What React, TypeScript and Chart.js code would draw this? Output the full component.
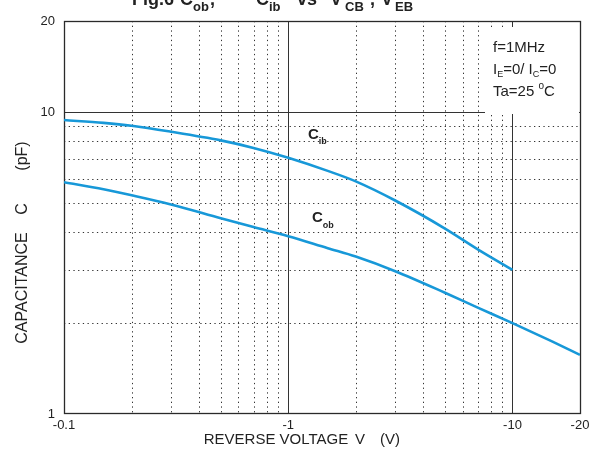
import React, { useEffect, useRef } from "react";
import { Chart, registerables } from "chart.js";

Chart.register(...registerables);

// ---- data (reverse voltage magnitude in V, capacitance in pF) ----
const cibVoltage = [0.1, 0.15, 0.2, 0.3, 0.5, 0.7, 1, 1.5, 2, 3, 5, 7, 10];
const cibValues = [9.4, 9.2, 9.0, 8.6, 8.05, 7.6, 7.05, 6.38, 5.89, 5.09, 4.11, 3.51, 3.0];
const cobVoltage = [0.1, 0.15, 0.2, 0.3, 0.5, 0.7, 1, 1.5, 2, 3, 5, 7, 10, 15, 20];
const cobValues = [5.85, 5.55, 5.3, 4.94, 4.45, 4.16, 3.88, 3.54, 3.32, 2.97, 2.52, 2.25, 2.0, 1.74, 1.57];

const xTickValues = [0.1, 1, 10, 20];
const xTickLabels = ["-0.1", "-1", "-10", "-20"];
const yTickValues = [1, 10, 20];
const yTickLabels = ["1", "10", "20"];

const xMinorGrid = [0.2, 0.3, 0.4, 0.5, 0.6, 0.7, 0.8, 0.9, 2, 3, 4, 5, 6, 7, 8, 9];
const xMajorGrid = [1, 10];
const yMinorGrid = [2, 3, 4, 5, 6, 7, 8, 9];
const yMajorGrid = [10];

const FONT = "Arial, 'Liberation Sans', sans-serif";
const TEXT = "#222";
const GRID = "#333";
const LINE = "#1798d8";

type Run = { t: string; sub?: boolean; sup?: boolean };

function drawRuns(ctx: CanvasRenderingContext2D, runs: Run[], x: number, y: number, size: number, subSize: number, bold: boolean, subDy: number, supDy: number) {
  let cx = x;
  for (const r of runs) {
    const s = r.sub || r.sup ? subSize : size;
    ctx.font = `${bold ? "bold " : ""}${s}px ${FONT}`;
    const yy = r.sub ? y + subDy : r.sup ? y - supDy : y;
    ctx.fillText(r.t, cx, yy);
    cx += ctx.measureText(r.t).width;
  }
}

const gridPlugin = {
  id: "customGrid",
  beforeDatasetsDraw(chart: any) {
    const { ctx, chartArea: a, scales } = chart;
    const xs = scales.x;
    const ys = scales.y;
    ctx.save();
    ctx.strokeStyle = GRID;
    ctx.lineWidth = 1;
    // dotted minor grid
    ctx.setLineDash([1.3, 3.4]);
    for (const v of xMinorGrid) {
      const px = Math.round(xs.getPixelForValue(v)) + 0.5;
      ctx.beginPath();
      ctx.moveTo(px, a.top);
      ctx.lineTo(px, a.bottom);
      ctx.stroke();
    }
    for (const v of yMinorGrid) {
      const py = Math.round(ys.getPixelForValue(v)) + 0.5;
      ctx.beginPath();
      ctx.moveTo(a.left, py);
      ctx.lineTo(a.right, py);
      ctx.stroke();
    }
    ctx.setLineDash([]);
    // solid decade lines
    for (const v of xMajorGrid) {
      const px = Math.round(xs.getPixelForValue(v)) + 0.5;
      ctx.beginPath();
      ctx.moveTo(px, a.top);
      ctx.lineTo(px, a.bottom);
      ctx.stroke();
    }
    for (const v of yMajorGrid) {
      const py = Math.round(ys.getPixelForValue(v)) + 0.5;
      ctx.beginPath();
      ctx.moveTo(a.left, py);
      ctx.lineTo(a.right, py);
      ctx.stroke();
    }
    // white box behind the conditions note
    const y10 = Math.round(ys.getPixelForValue(10));
    ctx.fillStyle = "#fff";
    ctx.fillRect(485, a.top + 6, a.right - 486, y10 - a.top - 4);
    // frame
    ctx.strokeStyle = "#2a2a2a";
    ctx.lineWidth = 1.3;
    ctx.strokeRect(a.left + 0.5, a.top + 0.5, a.right - a.left, a.bottom - a.top - 1);
    ctx.restore();
  },
  afterDraw(chart: any) {
    const { ctx } = chart;
    ctx.save();
    ctx.fillStyle = TEXT;
    ctx.textBaseline = "alphabetic";
    ctx.textAlign = "left";

    // title (cut off at the top of the picture)
    const titleRuns: [string, number, boolean][] = [
      ["Fig.6", 132, false],
      ["C", 180, false],
      ["ob", 193, true],
      [",", 210, false],
      ["C", 256, false],
      ["ib", 269, true],
      ["vs", 297, false],
      ["V", 330, false],
      ["CB", 345, true],
      [",", 370, false],
      ["V", 381, false],
      ["EB", 395, true],
    ];
    for (const [t, x, sub] of titleRuns) {
      ctx.font = `bold ${sub ? 13 : 18}px ${FONT}`;
      ctx.fillText(t, x, sub ? 11 : 5);
    }

    // conditions note
    ctx.font = `15px ${FONT}`;
    ctx.fillText("f=1MHz", 493, 52);
    drawRuns(ctx, [{ t: "I" }, { t: "E", sub: true }, { t: "=0/ I" }, { t: "C", sub: true }, { t: "=0" }], 493, 74, 15, 9, false, 3, 0);
    drawRuns(ctx, [{ t: "Ta=25 " }, { t: "o", sup: true }, { t: "C" }], 493, 96, 15, 10, false, 0, 7);

    // curve labels
    drawRuns(ctx, [{ t: "C" }, { t: "ib", sub: true }], 308, 139, 15, 9, true, 5, 0);
    drawRuns(ctx, [{ t: "C" }, { t: "ob", sub: true }], 312, 222, 15, 9, true, 6, 0);

    // x-axis title
    ctx.font = `15px ${FONT}`;
    ctx.textAlign = "center";
    ctx.textBaseline = "middle";
    ctx.fillText("REVERSE VOLTAGE", 276, 440);
    ctx.fillText("V", 360, 440);
    ctx.fillText("(V)", 390, 440);

    // y-axis title
    ctx.save();
    ctx.translate(23, 0);
    ctx.rotate(-Math.PI / 2);
    ctx.font = `16px ${FONT}`;
    ctx.fillText("CAPACITANCE", -288, 0);
    ctx.fillText("C", -209, 0);
    ctx.fillText("(pF)", -156, 0);
    ctx.restore();

    ctx.restore();
  },
};

export default function App() {
  const ref = useRef<HTMLCanvasElement | null>(null);

  useEffect(() => {
    document.body.style.margin = "0";
    const canvas = ref.current;
    if (!canvas) return;
    const chart = new Chart(canvas, {
      type: "line",
      data: {
        datasets: [
          {
            label: "Cib",
            data: cibVoltage.map((v, i) => ({ x: v, y: cibValues[i] })),
            borderColor: LINE,
            borderWidth: 2.6,
            pointRadius: 0,
            fill: false,
            cubicInterpolationMode: "monotone",
          },
          {
            label: "Cob",
            data: cobVoltage.map((v, i) => ({ x: v, y: cobValues[i] })),
            borderColor: LINE,
            borderWidth: 2.6,
            pointRadius: 0,
            fill: false,
            cubicInterpolationMode: "monotone",
          },
        ],
      },
      options: {
        responsive: false,
        animation: false,
        devicePixelRatio: 1,
        layout: { padding: { top: 21, right: 21, left: 0, bottom: 0 } },
        plugins: { legend: { display: false }, tooltip: { enabled: false }, title: { display: false } },
        scales: {
          x: {
            type: "logarithmic",
            min: 0.1,
            max: 20,
            grid: { display: false, drawTicks: false },
            border: { display: false },
            ticks: {
              autoSkip: false,
              maxRotation: 0,
              padding: 4,
              color: TEXT,
              font: { family: FONT, size: 13 },
              callback: (value: any) => {
                const i = xTickValues.findIndex((t) => Math.abs(t - Number(value)) < 1e-9);
                return i >= 0 ? xTickLabels[i] : "";
              },
            },
            afterBuildTicks: (s: any) => {
              s.ticks = xTickValues.map((v) => ({ value: v }));
            },
            afterFit: (s: any) => {
              s.height = 38;
            },
          },
          y: {
            type: "logarithmic",
            min: 1,
            max: 20,
            grid: { display: false, drawTicks: false },
            border: { display: false },
            ticks: {
              autoSkip: false,
              padding: 9,
              color: TEXT,
              font: { family: FONT, size: 13 },
              callback: (value: any) => {
                const i = yTickValues.findIndex((t) => Math.abs(t - Number(value)) < 1e-9);
                return i >= 0 ? yTickLabels[i] : "";
              },
            },
            afterBuildTicks: (s: any) => {
              s.ticks = yTickValues.map((v) => ({ value: v }));
            },
            afterFit: (s: any) => {
              s.width = 64;
            },
          },
        },
      },
      plugins: [gridPlugin],
    } as any);
    return () => chart.destroy();
  }, []);

  return (
    <div style={{ width: 601, height: 452, background: "#fff" }}>
      <canvas ref={ref} width={601} height={452} style={{ display: "block", width: 601, height: 452 }} />
    </div>
  );
}
